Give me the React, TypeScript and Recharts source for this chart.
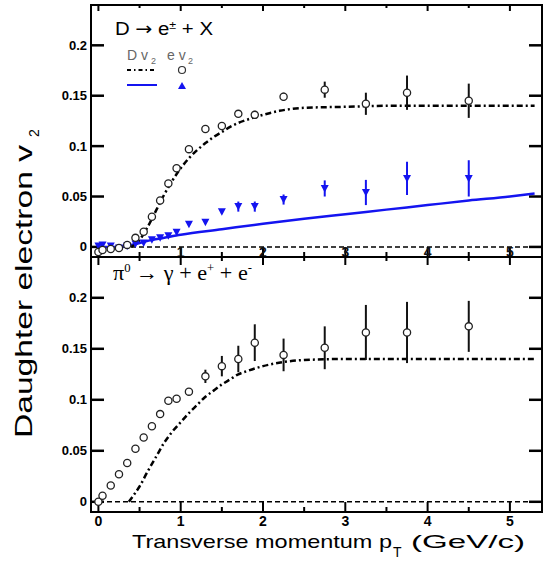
import React from 'react';
import { ComposedChart, Line, Scatter, XAxis, YAxis, ReferenceLine, ReferenceArea, ErrorBar } from 'recharts';

// ---------- data ----------
const ptBins = [0.0, 0.05, 0.15, 0.25, 0.35, 0.45, 0.55, 0.65, 0.75, 0.85, 0.95, 1.1, 1.3, 1.5, 1.7, 1.9, 2.25, 2.75, 3.25, 3.75, 4.5];

// top panel: electrons from D decays (open circles, from D v2 = dash-dot curve)
const dElecV2 = [-0.005, -0.003, -0.002, -0.001, 0.002, 0.009, 0.015, 0.03, 0.046, 0.063, 0.078, 0.097, 0.117, 0.12, 0.132, 0.131, 0.149, 0.156, 0.142, 0.153, 0.145];
const dElecErr = [0, 0, 0, 0, 0, 0, 0, 0, 0, 0, 0, 0, 0, 0, 0.003, 0.004, 0.004, 0.008, 0.011, 0.017, 0.017];

// top panel: electrons from D decays (blue triangles, from D v2 = blue curve)
const dElecV2Blue = [0.001, 0.002, 0.001, -0.001, 0.001, 0.003, 0.004, 0.007, 0.009, 0.011, 0.0145, 0.0225, 0.0245, 0.035, 0.04, 0.04, 0.047, 0.058, 0.054, 0.068, 0.068];
const dElecErrBlue = [0, 0, 0, 0, 0, 0, 0, 0, 0, 0, 0, 0, 0, 0.002, 0.005, 0.005, 0.005, 0.008, 0.0125, 0.0165, 0.018];

// bottom panel: electrons from pi0 Dalitz decays
const pi0ElecV2 = [0.0, 0.006, 0.016, 0.027, 0.038, 0.052, 0.063, 0.074, 0.086, 0.099, 0.101, 0.108, 0.123, 0.133, 0.14, 0.156, 0.144, 0.151, 0.166, 0.166, 0.172];
const pi0ElecErr = [0, 0, 0, 0, 0, 0, 0, 0, 0, 0, 0, 0.002, 0.0065, 0.01, 0.013, 0.018, 0.016, 0.021, 0.027, 0.03, 0.025];

// parent v2 curves
const dCurvePt = [0.4, 0.5, 0.6, 0.7, 0.8, 0.9, 1.0, 1.1, 1.2, 1.3, 1.4, 1.5, 1.6, 1.7, 1.8, 2.0, 2.2, 2.5, 3.0, 3.5, 4.0, 4.5, 5.0, 5.3];
const dCurveV2 = [0, 0.007, 0.02, 0.036, 0.052, 0.066, 0.078, 0.088, 0.096, 0.103, 0.109, 0.114, 0.119, 0.123, 0.126, 0.131, 0.135, 0.138, 0.139, 0.14, 0.14, 0.14, 0.14, 0.14];

const dBlueCurvePt = [0, 0.2, 0.4, 0.6, 0.8, 1.0, 1.5, 2.0, 2.5, 3.0, 3.5, 4.0, 4.5, 5.0, 5.3];
const dBlueCurveV2 = [0, 0, 0.002, 0.006, 0.009, 0.012, 0.0175, 0.023, 0.028, 0.0325, 0.037, 0.0415, 0.046, 0.05, 0.053];

const pi0CurvePt = [0.37, 0.45, 0.5, 0.6, 0.7, 0.8, 0.9, 1.0, 1.1, 1.2, 1.3, 1.4, 1.5, 1.6, 1.7, 1.8, 2.0, 2.25, 2.5, 3.0, 3.5, 4.0, 4.5, 5.0, 5.3];
const pi0CurveV2 = [0, 0.009, 0.015, 0.03, 0.044, 0.058, 0.069, 0.078, 0.087, 0.095, 0.103, 0.109, 0.115, 0.12, 0.125, 0.128, 0.133, 0.137, 0.139, 0.14, 0.14, 0.14, 0.14, 0.14, 0.14];

const xTicks = [0, 0.5, 1, 1.5, 2, 2.5, 3, 3.5, 4, 4.5, 5];
const xTickValues = [0, 1, 2, 3, 4, 5];
const xTickLabels = ['0', '1', '2', '3', '4', '5'];
const yTicks = [0, 0.05, 0.1, 0.15, 0.2];
const yTickLabels = ['0', '0.05', '0.1', '0.15', '0.2'];

const X_DOMAIN: [number, number] = [-0.09, 5.39];
const Y_DOMAIN: [number, number] = [-0.01, 0.24];

// ---------- derived tables ----------
const pts = (ys: number[], es: number[]) => ptBins.map((x, i) => ({ x, y: ys[i], e: es[i] }));
const curve = (xs: number[], ys: number[]) => xs.map((x, i) => ({ x, y: ys[i] }));

const topCircles = pts(dElecV2, dElecErr);
const topTriangles = pts(dElecV2Blue, dElecErrBlue);
const botCircles = pts(pi0ElecV2, pi0ElecErr);
const dCurve = curve(dCurvePt, dCurveV2);
const dBlueCurve = curve(dBlueCurvePt, dBlueCurveV2);
const pi0Curve = curve(pi0CurvePt, pi0CurveV2);

// ---------- layout / styles ----------
const W = 549;
const Y_AXIS_W = 91;
const M_RIGHT = 7;
const PLOT_W = W - Y_AXIS_W - M_RIGHT;
const TOP_H = 262;
const BOT_H = 321;
const BOT_XAXIS_H = 61;
const PLOT_H_TOP = TOP_H - 5 - 4 - 1;
const PLOT_H_BOT = BOT_H - 5 - BOT_XAXIS_H;

// tick lengths in pixels, converted to data units for the frame tick segments
const X_PER_PX = (X_DOMAIN[1] - X_DOMAIN[0]) / PLOT_W;
const yPerPx = (plotH: number) => (Y_DOMAIN[1] - Y_DOMAIN[0]) / plotH;

const SANS = "'Liberation Sans', Arial, Helvetica, sans-serif";
const SERIF = "'Liberation Serif', 'Times New Roman', serif";
const BLUE = '#1414f0';
const DASHDOT = '6 3 2 3';
const TICK_COLOR = '#000';

const isMajor = (v: number) => Math.abs(v - Math.round(v)) < 1e-9;
const xLabel = (v: number) => {
  const i = xTickValues.findIndex((t) => Math.abs(t - v) < 1e-9);
  return i >= 0 ? xTickLabels[i] : '';
};
const yLabel = (v: number) => {
  const i = yTicks.findIndex((t) => Math.abs(t - v) < 1e-9);
  return i >= 0 ? yTickLabels[i] : '';
};

const LeftTick = (p: any) => (
  <text x={p.x - 4} y={p.y} dy={4.5} textAnchor="end" fontSize={13} fontWeight="bold" fontFamily={SANS} fill="#000">
    {yLabel(p.payload.value)}
  </text>
);

const makeBottomTick = (inside: boolean) => (p: any) => {
  const v = p.payload.value;
  if (!isMajor(v)) return <g />;
  if (inside) {
    return v > 0 ? (
      <text x={p.x} y={p.y} textAnchor="middle" fontSize={14} fontWeight="bold" fontFamily={SANS} fill="#111">{xLabel(v)}</text>
    ) : <g />;
  }
  return (
    <text x={p.x} y={p.y + 14} textAnchor="middle" fontSize={14} fontWeight="bold" fontFamily={SANS} fill="#000">{xLabel(v)}</text>
  );
};

const OpenCircle = (p: any) => <circle cx={p.cx} cy={p.cy} r={3.6} fill="#fff" stroke="#222" strokeWidth={1.3} />;
const DownTriangle = (p: any) => (
  <polygon points={`${p.cx - 4},${p.cy - 3.5} ${p.cx + 4},${p.cy - 3.5} ${p.cx},${p.cy + 4}`} fill={BLUE} />
);
const Nothing = () => <g />;

const frameTicks = (plotH: number, topMajor: number, topMinor: number) => {
  const dy = yPerPx(plotH);
  const out: any[] = [];
  yTicks.forEach((t, i) => {
    out.push(
      <ReferenceLine key={`yl${i}`} xAxisId="b" yAxisId="l" ifOverflow="visible" stroke={TICK_COLOR} strokeWidth={2.5}
        segment={[{ x: X_DOMAIN[0], y: t }, { x: X_DOMAIN[0] + 13 * X_PER_PX, y: t }]} />,
      <ReferenceLine key={`yr${i}`} xAxisId="b" yAxisId="l" ifOverflow="visible" stroke={TICK_COLOR} strokeWidth={2.5}
        segment={[{ x: X_DOMAIN[1], y: t }, { x: X_DOMAIN[1] - 13 * X_PER_PX, y: t }]} />,
    );
  });
  xTicks.forEach((t, i) => {
    const major = isMajor(t);
    out.push(
      <ReferenceLine key={`xb${i}`} xAxisId="b" yAxisId="l" ifOverflow="visible" stroke={TICK_COLOR} strokeWidth={2}
        segment={[{ x: t, y: Y_DOMAIN[0] }, { x: t, y: Y_DOMAIN[0] + (major ? 10 : 5) * dy }]} />,
      <ReferenceLine key={`xt${i}`} xAxisId="b" yAxisId="l" ifOverflow="visible" stroke={TICK_COLOR} strokeWidth={2}
        segment={[{ x: t, y: Y_DOMAIN[1] }, { x: t, y: Y_DOMAIN[1] - (major ? topMajor : topMinor) * dy }]} />,
    );
  });
  return out;
};

const axes = (bottomTick: any, bottomHeight: number) => [
  <XAxis key="xb" xAxisId="b" dataKey="x" type="number" domain={X_DOMAIN} allowDataOverflow ticks={xTicks} interval={0}
    height={bottomHeight} tickSize={0} tickMargin={0} tickLine={false} tick={bottomTick} axisLine={false} />,
  <YAxis key="yl" yAxisId="l" type="number" domain={Y_DOMAIN} allowDataOverflow ticks={yTicks} interval={0}
    width={Y_AXIS_W} tickSize={0} tickMargin={0} tickLine={false} tick={LeftTick} axisLine={false} />,
  <ReferenceArea key="frame" xAxisId="b" yAxisId="l" x1={X_DOMAIN[0]} x2={X_DOMAIN[1]} y1={Y_DOMAIN[0]} y2={Y_DOMAIN[1]}
    fill="none" fillOpacity={0} stroke="#000" strokeWidth={2} ifOverflow="visible" />,
  <ReferenceLine key="zero" xAxisId="b" yAxisId="l" y={0} stroke="#000" strokeWidth={1.5} strokeDasharray="5 3" />,
];

export default function App() {
  return (
    <div style={{ position: 'absolute', left: 0, top: 0, width: W, height: 573, background: '#fff', overflow: 'hidden' }}>
      <div style={{ position: 'absolute', left: 0, top: 0 }}>
        <ComposedChart width={W} height={TOP_H} margin={{ top: 5, right: M_RIGHT, bottom: 4, left: 0 }}>
          {axes(makeBottomTick(true), 1)}
          {frameTicks(PLOT_H_TOP, 6, 3)}
          <Line xAxisId="b" yAxisId="l" data={dBlueCurve} dataKey="y" type="monotone" stroke={BLUE} strokeWidth={2.5} dot={false} isAnimationActive={false} />
          <Line xAxisId="b" yAxisId="l" data={dCurve} dataKey="y" type="monotone" stroke="#000" strokeWidth={2.5} strokeDasharray={DASHDOT} dot={false} isAnimationActive={false} />
          <Scatter xAxisId="b" yAxisId="l" data={topTriangles} dataKey="y" shape={Nothing} isAnimationActive={false}>
            <ErrorBar dataKey="e" direction="y" width={0} stroke={BLUE} strokeWidth={2} isAnimationActive={false} />
          </Scatter>
          <Scatter xAxisId="b" yAxisId="l" data={topTriangles} dataKey="y" shape={DownTriangle} isAnimationActive={false} />
          <Scatter xAxisId="b" yAxisId="l" data={topCircles} dataKey="y" shape={Nothing} isAnimationActive={false}>
            <ErrorBar dataKey="e" direction="y" width={0} stroke="#111" strokeWidth={2} isAnimationActive={false} />
          </Scatter>
          <Scatter xAxisId="b" yAxisId="l" data={topCircles} dataKey="y" shape={OpenCircle} isAnimationActive={false} />
        </ComposedChart>
      </div>
      <div style={{ position: 'absolute', left: 0, top: 252 }}>
        <ComposedChart width={W} height={BOT_H} margin={{ top: 5, right: M_RIGHT, bottom: 0, left: 0 }}>
          {axes(makeBottomTick(false), BOT_XAXIS_H)}
          {frameTicks(PLOT_H_BOT, 8, 4)}
          <Line xAxisId="b" yAxisId="l" data={pi0Curve} dataKey="y" type="monotone" stroke="#000" strokeWidth={2.5} strokeDasharray={DASHDOT} dot={false} isAnimationActive={false} />
          <Scatter xAxisId="b" yAxisId="l" data={botCircles} dataKey="y" shape={Nothing} isAnimationActive={false}>
            <ErrorBar dataKey="e" direction="y" width={0} stroke="#111" strokeWidth={2} isAnimationActive={false} />
          </Scatter>
          <Scatter xAxisId="b" yAxisId="l" data={botCircles} dataKey="y" shape={OpenCircle} isAnimationActive={false} />
        </ComposedChart>
      </div>
      <svg width={W} height={573} style={{ position: 'absolute', left: 0, top: 0, pointerEvents: 'none' }}>
        {/* top panel title */}
        <text x={115} y={35} fontSize={18} fontFamily={SANS} fill="#000" textLength={98} lengthAdjust="spacingAndGlyphs">
          D <tspan fontFamily="'DejaVu Sans', sans-serif">→</tspan> e<tspan dy={-6} fontSize={11}>±</tspan><tspan dy={6}> + X</tspan>
        </text>
        {/* legend header */}
        <text x={127} y={60} fontSize={14} fontFamily={SANS} fill="#666">D v</text>
        <text x={151} y={64} fontSize={9} fontFamily={SANS} fill="#666">2</text>
        <text x={167} y={60} fontSize={14} fontFamily={SANS} fill="#666">e v</text>
        <text x={188} y={64} fontSize={9} fontFamily={SANS} fill="#666">2</text>
        {/* legend rows */}
        <line x1={127} x2={157} y1={70} y2={70} stroke="#000" strokeWidth={2} strokeDasharray="4 3 1.5 3" />
        <circle cx={182} cy={70} r={3.5} fill="#fff" stroke="#333" strokeWidth={1.2} />
        <line x1={127} x2={157} y1={85} y2={85} stroke={BLUE} strokeWidth={2} />
        <polygon points="178,89 186,89 182,82" fill={BLUE} />
        {/* bottom panel title */}
        <text x={113} y={280} fontSize={21} fontFamily={SERIF} fill="#000" textLength={139} lengthAdjust="spacingAndGlyphs">
          π<tspan dy={-8} fontSize={12}>0</tspan><tspan dy={8}> → γ + e</tspan><tspan dy={-8} fontSize={12}>+</tspan><tspan dy={8}> + e</tspan><tspan dy={-8} fontSize={12}>-</tspan>
        </text>
        {/* y title */}
        <text transform="translate(32,438) rotate(-90)" x={0} y={0} fontSize={24} fontFamily={SANS} fill="#000" textLength={293} lengthAdjust="spacingAndGlyphs">
          Daughter electron v
        </text>
        <text transform="translate(39,438) rotate(-90)" x={301} y={0} fontSize={14} fontFamily={SANS} fill="#000">2</text>
        {/* x title */}
        <text x={132} y={548} fontSize={19} fontFamily={SANS} fill="#000" textLength={260} lengthAdjust="spacingAndGlyphs">
          Transverse momentum p
        </text>
        <text x={393} y={557} fontSize={14} fontFamily={SANS} fill="#000">T</text>
        <text x={411} y={548} fontSize={19} fontFamily={SANS} fill="#000" textLength={114} lengthAdjust="spacingAndGlyphs">
          (GeV/c)
        </text>
      </svg>
    </div>
  );
}
